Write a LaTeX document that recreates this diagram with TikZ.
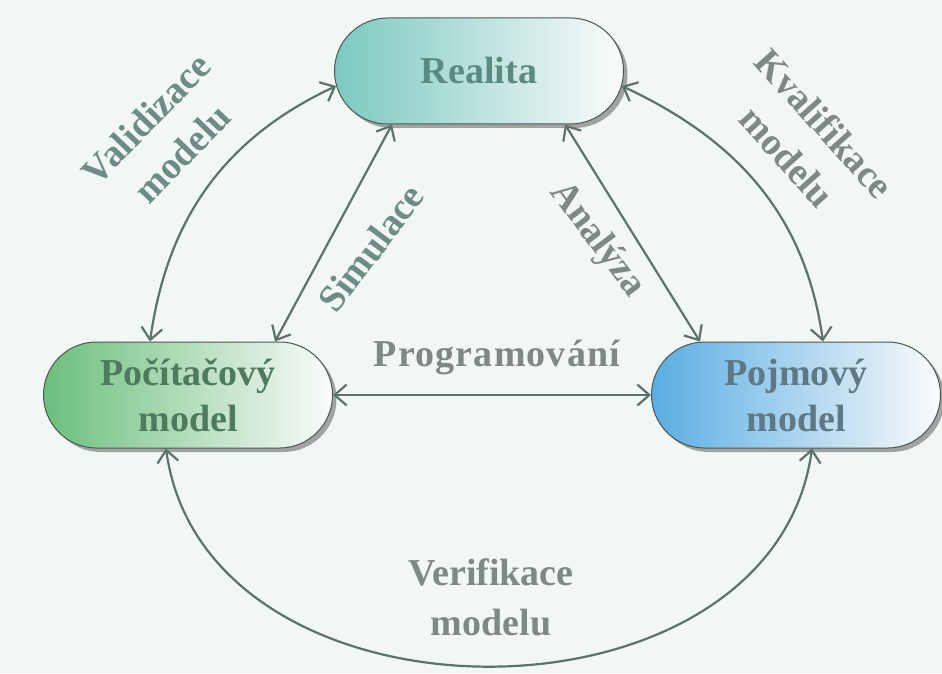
\documentclass[tikz,border=0pt]{standalone}
\usepackage{fontspec}
\setmainfont{Liberation Serif}
\usetikzlibrary{arrows.meta, shapes.misc, shadows}
\definecolor{pozadi}{HTML}{F1F7F5}
\definecolor{sipka}{HTML}{5E716D}
\definecolor{okraj}{HTML}{4A5856}
\definecolor{popisteal}{HTML}{6F8B86}
\definecolor{popisgray}{HTML}{808787}
\definecolor{realbarva}{HTML}{7CC9C0}
\definecolor{realtext}{HTML}{5B8B80}
\definecolor{pcbarva}{HTML}{6BBF7C}
\definecolor{pctext}{HTML}{4E7B5E}
\definecolor{pjbarva}{HTML}{5AADE2}
\definecolor{pjtext}{HTML}{5E7885}
\tikzset{
  blok/.style   = {rounded rectangle, draw=okraj, line width=1pt,
                   minimum width=289pt, minimum height=106pt, inner sep=0pt,
                   align=center, font=\fontsize{38}{46}\selectfont\bfseries,
                   right color=white!97!gray,
                   drop shadow={shadow xshift=4pt, shadow yshift=-4pt, fill=gray!80, opacity=0.9}},
  vazba/.style  = {{Straight Barb[length=12pt,width=21pt]}-{Straight Barb[length=12pt,width=21pt]},
                   sipka, line width=2.2pt},
  popis/.style  = {align=center, font=\fontsize{38}{50}\selectfont\bfseries}
}

\begin{document}
\begin{tikzpicture}[x=1pt, y=1pt]
  \fill[pozadi] (0,0) rectangle (942,673);
  \useasboundingbox (0,0) rectangle (942,673);

  \node[blok, left color=realbarva, text=realtext] (real) at (479,602) {Realita};
  \node[blok, left color=pcbarva, text=pctext] (pc) at (188,278) {Počítačový\\model};
  \node[blok, left color=pjbarva, text=pjtext] (pj) at (796,278) {Pojmový\\model};

  \draw[vazba] (real.186) to[out=205, in=82] ([xshift=-38pt]pc.north);
  \draw[vazba] (real.-6) to[out=-25, in=98] ([xshift=27pt]pj.north);
  \draw[vazba] ([xshift=-87pt]real.south) -- ([xshift=87pt]pc.north);
  \draw[vazba] ([xshift=86pt]real.south) -- ([xshift=-96pt]pj.north);
  \draw[vazba] (pc.east) -- (pj.west);
  \draw[vazba] ([xshift=-22pt]pc.south) .. controls +(40,-290) and +(-40,-290) .. ([xshift=16pt]pj.south);

  \node[popis, text=popisteal, rotate=46] (validace) at (164,537) {Validizace\\modelu};
  \node[popis, text=popisgray, rotate=-48] (kvalifikace) at (806,533) {Kvalifikace\\modelu};
  \node[popis, text=popisteal, rotate=53] (simulace) at (371,425) {Simulace};
  \node[popis, text=popisgray, rotate=-53] (analyza) at (597,433) {Analýza};
  \node[popis, text=popisgray] (programovani) at (497,316)
    {\addfontfeatures{LetterSpace=3}Programování};
  \node[popis, text=popisgray] (verifikace) at (491,76) {Verifikace\\modelu};
\end{tikzpicture}
\end{document}
